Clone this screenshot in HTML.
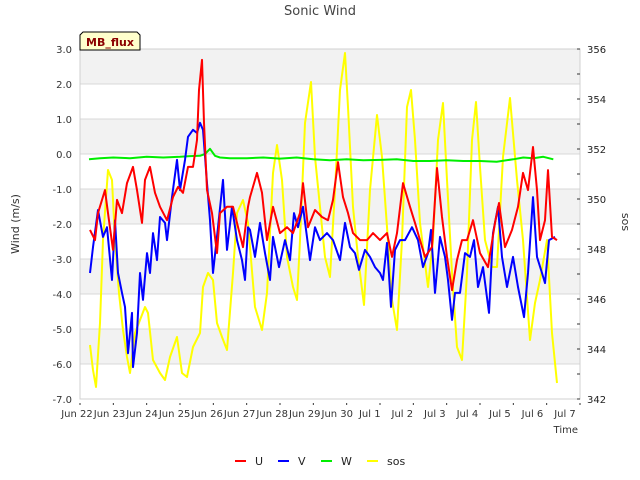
<!DOCTYPE html>
<html><head><meta charset="utf-8"><style>
body{margin:0;background:#fff;}
svg{display:block;font-family:"DejaVu Sans","Liberation Sans",sans-serif;}
</style></head><body>
<svg id="chart" width="640" height="480" viewBox="0 0 640 480"></svg>
<script>
const dayLabels=["Jun 22","Jun 23","Jun 24","Jun 25","Jun 26","Jun 27","Jun 28","Jun 29","Jun 30","Jul 1","Jul 2","Jul 3","Jul 4","Jul 5","Jul 6","Jul 7"];
const leftTicks=[3,2,1,0,-1,-2,-3,-4,-5,-6,-7];
const rightTicks=[356,354,352,350,348,346,344,342];
const uTimes=[0.30,0.45,0.54,0.75,0.84,0.99,1.11,1.26,1.41,1.59,1.71,1.86,1.95,2.10,2.25,2.40,2.61,2.79,2.94,3.09,3.24,3.39,3.51,3.57,3.66,3.72,3.81,3.96,4.11,4.20,4.41,4.59,4.89,5.04,5.10,5.31,5.46,5.61,5.79,6.00,6.21,6.39,6.60,6.69,6.84,7.05,7.26,7.44,7.59,7.74,7.89,8.04,8.19,8.40,8.61,8.79,9.00,9.21,9.36,9.51,9.69,9.90,10.05,10.20,10.35,10.56,10.71,10.86,11.01,11.16,11.31,11.46,11.61,11.79,12.00,12.24,12.45,12.57,12.75,12.96,13.14,13.29,13.44,13.59,13.71,13.80,13.95,14.04,14.16,14.31];
const uValues=[-2.17,-2.46,-1.69,-1.03,-1.69,-2.74,-1.31,-1.69,-0.83,-0.37,-1.03,-1.97,-0.74,-0.37,-1.11,-1.51,-1.89,-1.23,-0.94,-1.11,-0.37,-0.37,0.40,1.83,2.69,0.89,-1.03,-1.69,-2.83,-1.69,-1.51,-1.51,-2.66,-1.51,-1.23,-0.54,-1.11,-2.46,-1.51,-2.26,-2.09,-2.26,-1.69,-0.83,-2.09,-1.60,-1.80,-1.89,-1.31,-0.23,-1.23,-1.69,-2.26,-2.46,-2.46,-2.26,-2.46,-2.26,-2.94,-2.26,-0.83,-1.51,-1.97,-2.46,-2.94,-2.66,-0.40,-1.80,-2.94,-3.89,-3.03,-2.46,-2.46,-1.89,-2.83,-3.23,-1.97,-1.40,-2.66,-2.17,-1.51,-0.54,-1.03,0.20,-1.03,-2.46,-1.89,-0.46,-2.37,-2.46];
const vTimes=[0.30,0.39,0.54,0.69,0.81,0.96,1.05,1.14,1.26,1.35,1.44,1.56,1.59,1.71,1.80,1.89,2.01,2.10,2.19,2.31,2.40,2.55,2.61,2.76,2.91,3.00,3.15,3.24,3.39,3.51,3.60,3.69,3.81,3.90,3.99,4.14,4.29,4.41,4.56,4.71,4.86,4.95,5.04,5.10,5.25,5.40,5.55,5.70,5.79,5.97,6.15,6.30,6.42,6.54,6.69,6.90,7.05,7.20,7.41,7.59,7.80,7.95,8.10,8.25,8.37,8.55,8.70,8.85,9.00,9.09,9.21,9.33,9.45,9.60,9.75,9.96,10.14,10.29,10.44,10.53,10.65,10.80,10.95,11.04,11.16,11.25,11.40,11.55,11.70,11.82,11.94,12.09,12.27,12.39,12.54,12.66,12.81,12.99,13.14,13.32,13.44,13.59,13.71,13.86,13.95,14.07,14.25];
const vValues=[-3.40,-2.66,-1.60,-2.37,-2.09,-3.60,-1.89,-3.40,-3.97,-4.37,-5.69,-4.54,-6.09,-5.11,-3.40,-4.17,-2.83,-3.40,-2.26,-3.03,-1.80,-1.97,-2.46,-1.23,-0.17,-1.03,-0.17,0.49,0.69,0.60,0.89,0.69,-0.83,-1.89,-3.40,-2.09,-0.74,-2.74,-1.51,-2.46,-3.03,-3.60,-2.09,-2.17,-2.94,-1.97,-2.83,-3.60,-2.37,-3.23,-2.46,-3.03,-1.69,-2.09,-1.51,-3.03,-2.09,-2.46,-2.26,-2.46,-3.03,-1.97,-2.66,-2.83,-3.31,-2.74,-2.94,-3.23,-3.40,-3.60,-2.54,-4.37,-2.74,-2.46,-2.46,-2.09,-2.46,-3.23,-2.83,-2.17,-3.97,-2.37,-2.94,-3.60,-4.74,-3.97,-3.97,-2.83,-2.94,-2.46,-3.80,-3.23,-4.54,-2.26,-1.51,-2.94,-3.80,-2.94,-3.80,-4.66,-3.40,-1.23,-2.94,-3.40,-3.69,-2.46,-2.37];
const wTimes=[0.27,0.6,1.0,1.5,2.0,2.5,3.0,3.3,3.6,3.75,3.9,4.05,4.2,4.5,5.0,5.5,6.0,6.5,7.0,7.5,8.0,8.5,9.0,9.5,10.0,10.5,11.0,11.5,12.0,12.5,13.0,13.3,13.6,13.9,14.2];
const wValues=[-0.15,-0.12,-0.1,-0.12,-0.08,-0.1,-0.08,-0.06,-0.05,0.0,0.15,-0.05,-0.1,-0.12,-0.12,-0.1,-0.13,-0.1,-0.15,-0.18,-0.15,-0.18,-0.17,-0.15,-0.2,-0.2,-0.18,-0.2,-0.2,-0.22,-0.15,-0.1,-0.12,-0.08,-0.15];
const sosTimes=[0.30,0.39,0.48,0.60,0.69,0.84,0.96,1.05,1.17,1.29,1.41,1.50,1.65,1.80,1.95,2.04,2.19,2.40,2.55,2.70,2.91,3.06,3.21,3.39,3.60,3.69,3.84,3.99,4.11,4.26,4.41,4.59,4.71,4.89,5.04,5.25,5.46,5.61,5.79,5.91,6.06,6.21,6.39,6.51,6.60,6.75,6.93,7.05,7.20,7.35,7.50,7.65,7.80,7.95,8.04,8.19,8.34,8.52,8.70,8.91,9.06,9.21,9.36,9.51,9.66,9.81,9.93,10.05,10.20,10.44,10.59,10.74,10.89,11.01,11.16,11.31,11.46,11.61,11.76,11.88,12.00,12.15,12.36,12.51,12.69,12.90,13.11,13.29,13.50,13.65,13.80,14.01,14.16,14.31];
const sosValues=[344.16,343.16,342.48,345.04,348.36,351.16,350.76,348.36,346.24,344.76,343.68,343.04,344.64,345.16,345.68,345.44,343.56,343.04,342.76,343.68,344.48,343.04,342.88,344.08,344.64,346.48,347.04,346.76,345.04,344.48,343.96,347.04,349.44,349.96,349.04,345.68,344.76,346.24,351.04,352.16,350.76,347.68,346.48,345.96,348.36,353.04,354.68,351.68,349.68,347.68,346.88,350.36,354.36,355.84,353.68,349.68,347.68,345.76,350.36,353.36,351.68,348.88,345.96,344.76,348.36,353.68,354.36,352.36,349.04,346.48,348.36,352.36,353.84,350.76,347.04,344.08,343.56,347.04,352.36,353.88,351.28,348.36,347.28,347.28,351.68,354.04,350.76,348.36,344.36,345.84,346.76,348.36,344.64,342.64];

const NS="http://www.w3.org/2000/svg";
const svg=document.getElementById('chart');
const L=80,R=580,T=49,B=399;
function xs(t){return L+t*(R-L)/15;}
function yl(v){return T+(3-v)*(B-T)/10;}
function yr(v){return T+(356-v)*(B-T)/14;}
function mk(tag,attrs,parent){const e=document.createElementNS(NS,tag);for(const k in attrs)e.setAttribute(k,attrs[k]);(parent||svg).appendChild(e);return e;}

const bg=mk('rect',{x:L,y:T,width:R-L,height:B-T,fill:'#fff'});


for(let v=3;v>-7;v-=2){
  const band=mk('rect',{x:L,y:yl(v),width:R-L,height:yl(v-1)-yl(v),fill:'#f2f2f2'});
  
  
}
leftTicks.forEach(v=>{
  const g=mk('line',{x1:L,x2:R,y1:yl(v),y2:yl(v),stroke:'#d8d8d8','stroke-width':1});
  
  
  const tl=mk('text',{x:L-8,y:yl(v)+4,'text-anchor':'end','font-size':10,fill:'#333'});
  tl.textContent=v.toFixed(1);
  
  
});
mk('rect',{x:L,y:T,width:R-L,height:B-T,fill:'none',stroke:'#d0d0d0','stroke-width':1});
for(let v=342;v<=356;v++){
  const tk=mk('line',{x1:R-3,x2:R,y1:yr(v),y2:yr(v),stroke:'#333','stroke-width':1});
  
  
}
rightTicks.forEach(v=>{
  const tl=mk('text',{x:R+7,y:yr(v)+4,'font-size':10,fill:'#222'});
  tl.textContent=v;
  
  
});
dayLabels.forEach((d,i)=>{
  const tk=mk('line',{x1:xs(i),x2:xs(i),y1:B+4,y2:B+6,stroke:'#333','stroke-width':1});
  
  
  const tl=mk('text',{x:xs(i)-3-i*0.8,y:B+18,'text-anchor':'middle','font-size':10,fill:'#333'});
  tl.textContent=d;
  
  
});

function series(times,vals,yf,color,name){
  const pts=times.map((t,i)=>xs(t).toFixed(1)+','+yf(vals[i]).toFixed(1)).join(' ');
  const p=mk('polyline',{points:pts,fill:'none',stroke:color,'stroke-width':2,'stroke-linejoin':'round'});
  
  
}
series(sosTimes,sosValues,yr,'#ffff00','sos-line');
series(wTimes,wValues,yl,'#00ee00','w-line');
series(vTimes,vValues,yl,'#0000ff','v-line');
series(uTimes,uValues,yl,'#ff0000','u-line');
</script>
<div style="position:absolute;left:0;top:0;width:640px;height:480px;pointer-events:none;">
<svg width="640" height="480" style="position:absolute;left:0;top:0">
<text x="320" y="15" text-anchor="middle" font-size="13" fill="#444" font-family="DejaVu Sans, Liberation Sans, sans-serif">Sonic Wind</text>
<text transform="translate(19,224) rotate(-90)" text-anchor="middle" font-size="11" fill="#333" font-family="DejaVu Sans, Liberation Sans, sans-serif">Wind (m/s)</text>
<text transform="translate(622,222) rotate(90)" text-anchor="middle" font-size="11" fill="#333" font-family="DejaVu Sans, Liberation Sans, sans-serif">sos</text>
<text x="578" y="433" text-anchor="end" font-size="10" fill="#333" font-family="DejaVu Sans, Liberation Sans, sans-serif">Time</text>
<g>
<path d="M83,32 L137,32 L140,35 L140,50 L80,50 L80,35 Z" fill="#ffffcc" stroke="#000" stroke-width="1"/>
<text x="110" y="46" text-anchor="middle" font-size="11" font-weight="bold" fill="#8b0000" font-family="DejaVu Sans, Liberation Sans, sans-serif">MB_flux</text>
</g>
<g font-family="DejaVu Sans, Liberation Sans, sans-serif" font-size="11" fill="#222">
<g><line x1="235" x2="246" y1="461" y2="461" stroke="#ff0000" stroke-width="2"/><text x="255" y="465">U</text></g>
<g><line x1="278" x2="289" y1="461" y2="461" stroke="#0000ff" stroke-width="2"/><text x="298" y="465">V</text></g>
<g><line x1="321" x2="332" y1="461" y2="461" stroke="#00ee00" stroke-width="2"/><text x="341" y="465">W</text></g>
<g><line x1="367" x2="378" y1="461" y2="461" stroke="#ffff00" stroke-width="2"/><text x="387" y="465">sos</text></g>
</g>
</svg>
</div>
</body></html>
